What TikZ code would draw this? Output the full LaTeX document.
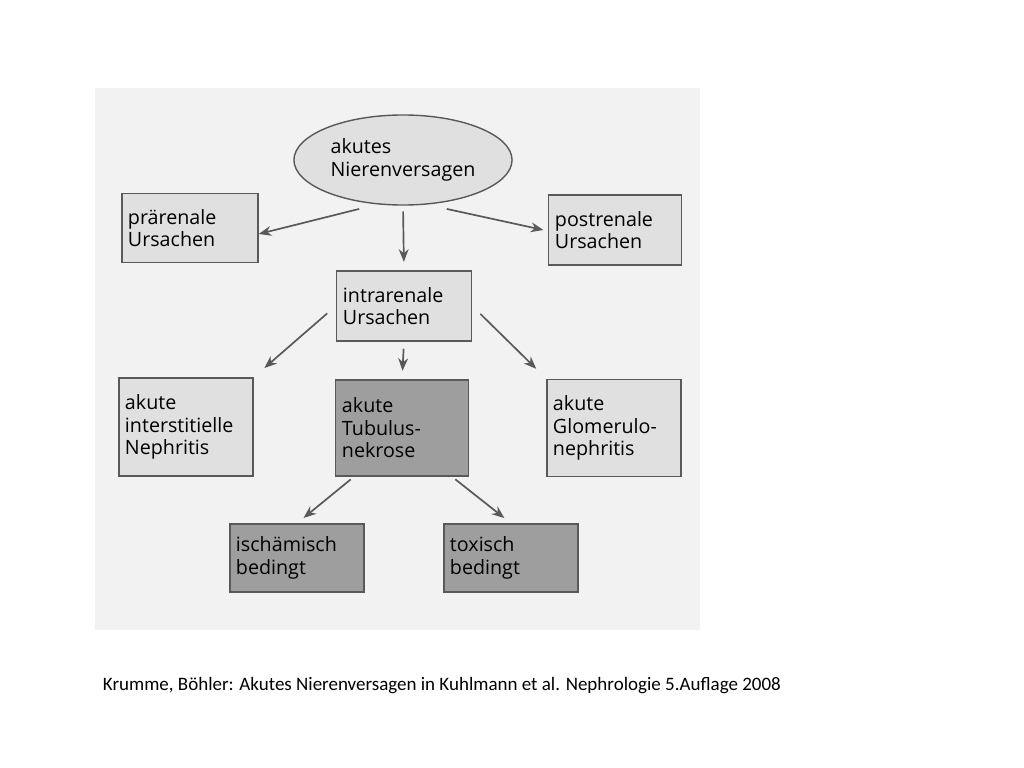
\documentclass[tikz,border=0pt]{standalone}
\usepackage{fontspec}
\setmainfont{Carlito}
\newfontfamily\boxfont{Open Sans}
\usetikzlibrary{shapes.geometric,arrows.meta}
\definecolor{bgscan}{gray}{0.95}
\definecolor{boxlight}{gray}{0.88}
\definecolor{boxdark}{gray}{0.62}
\definecolor{edgegray}{gray}{0.35}
\tikzset{
	causebox/.style={draw=edgegray, line width=1pt, fill=boxlight, align=left,
		font=\boxfont\fontsize{14}{16}\selectfont, inner sep=4pt, anchor=center},
	darkbox/.style={causebox, fill=boxdark},
	link/.style={-{Stealth[length=9pt,width=7pt]}, draw=edgegray, line width=1.2pt}
}
\begin{document}
\begin{tikzpicture}[x=0.025cm, y=-0.025cm]
	\useasboundingbox (0,0) rectangle (1024,768);
	\fill[bgscan] (95,88) rectangle (700,630);

	\node[ellipse, draw=edgegray, line width=1pt, fill=boxlight, minimum width=205\pgflinewidth*0+5.1cm,
		minimum height=2.25cm, align=left, font=\boxfont\fontsize{14}{16}\selectfont] (anv) at (403,160) {akutes\\Nierenversagen};

	\node[causebox, minimum width=3.4cm, minimum height=1.72cm, text width=3.1cm] (pre) at (190,228) {prärenale\\Ursachen};
	\node[causebox, minimum width=3.33cm, minimum height=1.75cm, text width=3.0cm] (post) at (615,230) {postrenale\\Ursachen};
	\node[causebox, minimum width=3.38cm, minimum height=1.75cm, text width=3.05cm] (intra) at (404,306) {intrarenale\\Ursachen};

	\node[causebox, minimum width=3.35cm, minimum height=2.45cm, text width=3.05cm] (inter) at (186,427) {akute\\interstitielle\\Nephritis};
	\node[darkbox, minimum width=3.33cm, minimum height=2.4cm, text width=3.0cm] (tub) at (402,428) {akute\\Tubulus-\\nekrose};
	\node[causebox, minimum width=3.35cm, minimum height=2.43cm, text width=3.05cm] (glom) at (614,428) {akute\\Glomerulo-\\nephritis};

	\node[darkbox, minimum width=3.35cm, minimum height=1.7cm, text width=3.05cm] (isch) at (297,558) {ischämisch\\bedingt};
	\node[darkbox, minimum width=3.35cm, minimum height=1.7cm, text width=3.05cm] (tox) at (511,558) {toxisch\\bedingt};

	\draw[link] (anv.220) ++(5,8) coordinate (a1) -- (pre.east |- 0,234);
	\draw[link, shorten >=6pt, shorten <=4pt] (anv.south) -- (intra.north);
	\draw[link] (anv.-40) ++(-5,8) coordinate (a2) -- ([xshift=-3pt]post.west);

	\draw[link, shorten <=8pt, shorten >=10pt] (intra.west) -- (inter.north east);
	\draw[link, shorten <=5pt, shorten >=6pt] (intra.south) -- (tub.north);
	\draw[link, shorten <=8pt, shorten >=10pt] (intra.east) -- (glom.north west);

	\draw[link, shorten <=3pt, shorten >=6pt] ([xshift=-1.2cm]tub.south) -- (isch.north);
	\draw[link, shorten <=3pt, shorten >=6pt] ([xshift=1.25cm]tub.south) -- (tox.north);

	\node[font=\fontsize{13.5}{16}\selectfont, anchor=west] (cap) at (98,686)
		{Krumme, Böhler: Akutes Nierenversagen in Kuhlmann et al. Nephrologie 5.Auflage 2008};
\end{tikzpicture}
\end{document}
